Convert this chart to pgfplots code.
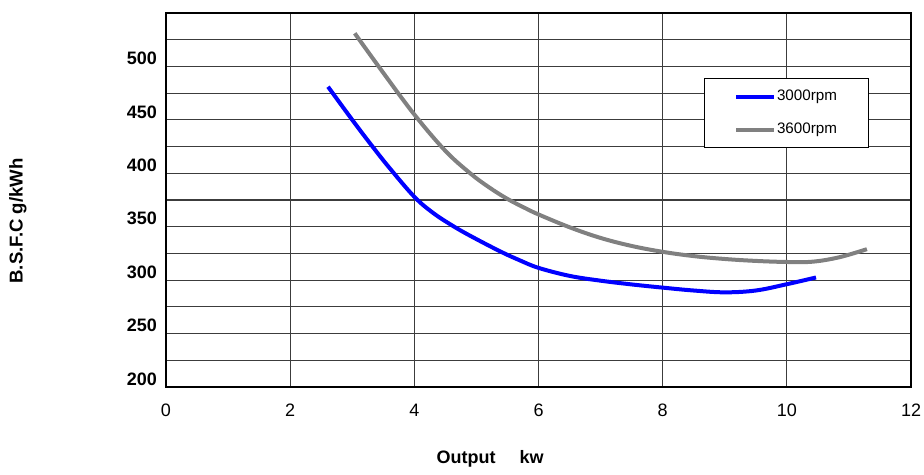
\documentclass[border=0pt]{standalone}
\usepackage{fontspec}
\setmainfont{Liberation Sans}
\usepackage{pgfplots}
\pgfplotsset{compat=1.18}
\definecolor{rpmA}{RGB}{0,0,255}
\definecolor{rpmB}{RGB}{128,128,128}
\definecolor{gridc}{RGB}{60,60,60}

\begin{document}
\begin{tikzpicture}
\begin{axis}[
  name=main, scale only axis, width=372.5pt, height=187pt,
  xmin=0, xmax=12, ymin=200, ymax=550,
  xtick={0,2,...,12}, ytick={200,250,...,500}, minor ytick={225,275,...,525},
  grid=both,
  major grid style={gridc, line width=0.55pt},
  minor grid style={gridc, line width=0.55pt},
  axis line style={black, line width=0.8pt},
  tick style={draw=none},
  /pgf/number format/assume math mode=true,
  xticklabel style={font=\fontsize{9}{10}\selectfont, inner sep=0pt, yshift=-8.3pt},
  yticklabel style={font=\fontsize{9}{10}\selectfont\bfseries, yshift=4pt, xshift=-1pt},
  xlabel={Output\hspace{12pt}kw},
  xlabel style={font=\fontsize{9}{10}\selectfont\bfseries, at={(axis description cs:0.435,-0.193)}, anchor=center},
  ylabel={B.S.F.C g/kWh},
  ylabel style={font=\fontsize{9.3}{10}\selectfont\bfseries, inner sep=0pt, at={(axis description cs:-0.199,0.444)}, anchor=center},
  legend style={draw=black, line width=0.5pt, at={(axis description cs:0.7215,0.8255)}, anchor=north west,
    font=\fontsize{7.6}{9}\selectfont, inner xsep=15pt, inner ysep=5pt, row sep=9pt,
    nodes={inner sep=0.5pt, anchor=west}},
  legend cell align=left,
  legend image code/.code={\draw[#1, line width=2pt] (0pt,0pt) -- (19pt,0pt);},
]
% 3000 rpm
\addplot[rpmA, line width=2pt, smooth, tension=0.6] coordinates {
  (2.61,481) (3.0,450) (3.3,427) (3.6,405) (4.0,378) (4.3,363) (4.6,351.5)
  (4.9,341.5) (5.38,327) (5.7,318.5) (6.0,311.5) (6.5,304) (7.0,299.5) (7.5,296)
  (8.0,293) (8.5,290.3) (9.0,288.6) (9.5,290.3) (10.0,296.2) (10.47,302.5)};
\addlegendentry{3000rpm}
% 3600 rpm
\addplot[rpmB, line width=2pt, smooth, tension=0.6] coordinates {
  (3.04,531) (3.5,494) (4.0,455) (4.5,421) (4.9,400) (5.2,387) (5.5,376)
  (5.8,367) (6.0,361.5) (6.5,349.5) (7.0,339.5) (7.5,332) (8.0,326.5) (8.5,322.5)
  (9.0,319.8) (9.5,318) (10.0,317) (10.42,317.3) (10.85,321.5) (11.29,329)};
\addlegendentry{3600rpm}
\end{axis}
\path (main.south west) ++(-83pt,-41pt) rectangle ([shift={(6.5pt,6.5pt)}]main.north east);
\end{tikzpicture}
\end{document}
